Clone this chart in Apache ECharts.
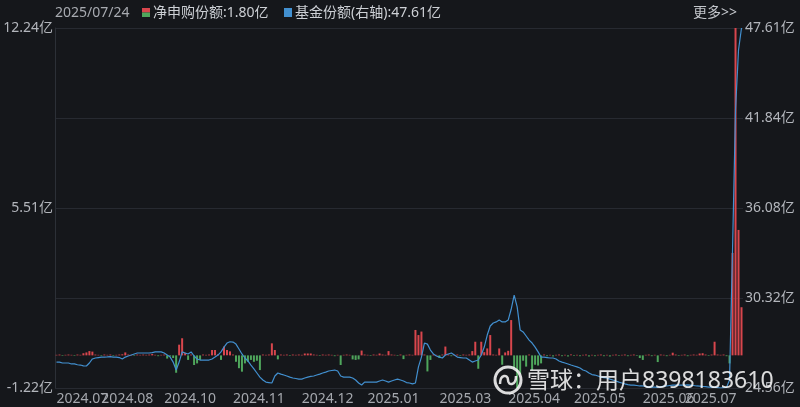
<!DOCTYPE html>
<html><head><meta charset="utf-8">
<script src="https://cdn.jsdelivr.net/npm/echarts/dist/echarts.min.js"></script>
<style>html,body{margin:0;padding:0;background:#15171b;}#c{width:800px;height:407px;}</style>
</head><body><div id="c"></div>
<script>
const dateLabel = '2025/07/24';
const tickIndex = [0, 15, 36, 59, 82, 104, 128, 151, 173, 196, 210];
const tickLabels = ['2024.07','2024.08','2024.10','2024.11','2024.12','2025.01','2025.03','2025.04','2025.05','2025.06','2025.07'];
const leftTickLabels = ['-1.22亿','5.51亿','12.24亿'];
const rightTickLabels = ['24.56亿','30.32亿','36.08亿','41.84亿','47.61亿'];

// 净申购份额 (亿)
const netSubscription = [
 0.02, 0.03,-0.02, 0.02, 0.03, 0.02,-0.02, 0.03, 0.02, 0.08,
 0.11, 0.16, 0.14, 0.03, 0.02,-0.02, 0.03, 0.02, 0.03,-0.02,
 0.02, 0.03, 0.04, 0.11, 0.03, 0.02,-0.02, 0.03, 0.02, 0.03,
 0.02, 0.03, 0.05, 0.02,-0.03, 0.02, 0.03,-0.12,-0.04,-0.10,
-0.65, 0.40, 0.64, 0.10,-0.17, 0.03,-0.36,-0.30,-0.17, 0.03,
 0.02, 0.03, 0.20, 0.20, 0.04,-0.17, 0.33, 0.20, 0.15, 0.03,
-0.24,-0.48,-0.61,-0.30,-0.24,-0.17,-0.24,-0.20,-0.55, 0.03,
 0.02, 0.03, 0.45, 0.20,-0.15, 0.03, 0.02, 0.03,-0.02, 0.03,
 0.02, 0.03, 0.02, 0.07, 0.07, 0.07, 0.03, 0.02,-0.02, 0.03,
 0.02, 0.03, 0.02,-0.03, 0.02,-0.36, 0.02, 0.03, 0.02,-0.15,
-0.17,-0.15, 0.18, 0.03, 0.02,-0.02, 0.03, 0.02, 0.07, 0.03,
 0.02, 0.16, 0.03, 0.02,-0.02, 0.03,-0.14, 0.02, 0.03, 0.02,
 0.95, 0.76, 0.89, 0.03,-0.60,-0.17, 0.03, 0.02,-0.10, 0.03,
 0.33, 0.03,-0.03, 0.02, 0.03,-0.02, 0.03, 0.02, 0.03, 0.16,
 0.51,-0.50, 0.51, 0.12, 0.26, 0.76, 0.03, 0.02, 0.26,-0.35,
 0.11, 0.17, 1.32,-0.48,-1.22,-0.70,-0.20,-0.42, 0.03,-0.55,
-0.35,-0.38,-0.30, 0.03,-0.03, 0.02,-0.04, 0.02, 0.03,-0.03,
 0.02,-0.04, 0.03,-0.02, 0.02,-0.03, 0.02, 0.03,-0.04, 0.02,
-0.03, 0.02, 0.03,-0.03, 0.02,-0.04, 0.02, 0.03,-0.02, 0.02,
 0.03,-0.03, 0.02, 0.03,-0.02,-0.10,-0.17, 0.02, 0.03,-0.03,
 0.02,-0.25, 0.03, 0.02,-0.03, 0.02, 0.10, 0.03,-0.02, 0.02,
 0.03,-0.03, 0.02, 0.03, 0.02, 0.07, 0.08, 0.03,-0.02, 0.03,
 0.51, 0.03, 0.02, 0.03,-0.03,-0.30, 3.83,12.24, 4.69, 1.80
];

// 基金份额 (亿, 右轴)
const fundShares = [
 26.22,26.22,26.16,26.16,26.16,26.10,26.10,26.05,26.03,25.98,
 25.97,26.16,26.42,26.48,26.51,26.54,26.54,26.55,26.57,26.54,
 26.54,26.51,26.42,26.54,26.61,26.67,26.74,26.80,26.80,26.80,
 26.80,26.80,26.83,26.87,26.87,26.87,26.80,26.67,26.54,26.22,
 25.71,26.22,26.87,26.80,26.74,26.87,26.61,26.42,26.35,26.35,
 26.35,26.35,26.42,26.54,26.67,26.87,27.18,27.44,27.52,27.50,
 27.37,27.06,26.74,26.48,26.29,26.03,25.78,25.52,25.26,25.07,
 24.94,24.91,24.88,25.33,25.52,25.45,25.39,25.33,25.26,25.20,
 25.17,25.13,25.13,25.20,25.26,25.30,25.33,25.39,25.45,25.52,
 25.58,25.65,25.68,25.71,25.65,25.33,25.26,25.26,25.26,25.20,
 25.07,24.88,24.75,24.94,24.94,24.94,24.94,24.94,25.01,25.07,
 25.01,24.94,25.01,25.07,25.13,25.07,25.01,24.91,24.88,24.82,
 24.88,25.91,26.54,27.44,27.37,26.99,26.74,26.61,26.54,26.48,
 26.67,26.74,26.80,26.67,26.54,26.51,26.48,26.48,26.35,26.22,
 26.29,26.35,26.67,27.18,27.95,28.53,28.72,28.79,28.91,28.79,
 28.79,28.91,29.60,30.51,29.75,28.28,28.15,27.89,27.63,27.44,
 27.18,26.87,26.54,26.54,26.51,26.48,26.48,26.42,26.29,26.22,
 26.16,26.10,26.03,25.97,25.91,25.84,25.71,25.65,25.52,25.42,
 25.39,25.33,25.26,25.23,25.20,25.13,25.07,25.01,24.94,24.88,
 24.82,24.78,24.75,24.75,24.72,24.69,24.69,24.66,24.62,24.62,
 24.62,24.60,24.64,24.68,24.69,24.72,24.75,24.75,24.74,24.75,
 24.75,24.76,24.75,24.72,24.69,24.68,24.66,24.65,24.62,24.61,
 24.60,24.58,24.56,24.58,24.60,25.07,33.40,42.36,46.20,47.61
];

const categories = netSubscription.map((_, i) => i);

const FONT = "'Noto Sans','Noto Sans CJK SC',sans-serif";
const RED = '#d8464d', GREEN = '#4fa65c', BLUE = '#4290d0';
const LMIN = -1.22, LMAX = 12.24, LINT = 6.73;
const RMIN = 24.56, RMAX = 47.61, RINT = 5.7625;
const WM = 'rgba(255,255,255,0.85)';

const chart = echarts.init(document.getElementById('c'), null, {renderer: 'canvas'});
const lastNet = netSubscription[netSubscription.length - 1].toFixed(2);
const lastShare = fundShares[fundShares.length - 1].toFixed(2);

// two label layers so that overlapping month labels are both kept
function xAxisLayer(parity) {
  const pick = (idx) => { const k = tickIndex.indexOf(idx); return k >= 0 && k % 2 === parity; };
  return {
    type: 'category',
    data: categories,
    boundaryGap: true,
    position: 'bottom',
    axisLine: {show: false},
    axisTick: {show: false},
    splitLine: {show: false},
    axisLabel: {
      interval: (idx) => pick(idx),
      formatter: (v, idx) => pick(idx) ? tickLabels[tickIndex.indexOf(idx)] : '',
      hideOverlap: false,
      align: 'left',
      margin: 4,
      color: '#a5a8ae',
      fontSize: 14,
      fontFamily: FONT
    }
  };
}

chart.setOption({
  backgroundColor: '#15171b',
  animation: false,
  grid: {left: 55, right: 57, top: 28, bottom: 19, containLabel: false},
  xAxis: [xAxisLayer(0), xAxisLayer(1)],
  yAxis: [
    {
      type: 'value', min: LMIN, max: LMAX, interval: LINT,
      axisLine: {show: true, lineStyle: {color: '#2c3037', width: 1}},
      axisTick: {show: false},
      splitLine: {show: false},
      axisLabel: {
        margin: 2, color: '#b3b6bc', fontSize: 14, fontFamily: FONT, hideOverlap: false,
        formatter: (v) => leftTickLabels[Math.round((v - LMIN) / LINT)] || ''
      }
    },
    {
      type: 'value', min: RMIN, max: RMAX, interval: RINT,
      position: 'right',
      axisLine: {show: false},
      axisTick: {show: false},
      splitLine: {show: true, lineStyle: {color: '#272a31', width: 1}},
      axisLabel: {
        margin: 2, color: '#b3b6bc', fontSize: 14, fontFamily: FONT, hideOverlap: false,
        formatter: (v) => rightTickLabels[Math.round((v - RMIN) / RINT)] || ''
      }
    }
  ],
  series: [
    {
      name: '净申购份额', type: 'bar', xAxisIndex: 0, yAxisIndex: 0,
      data: netSubscription, barWidth: 2,
      itemStyle: {color: (p) => p.value >= 0 ? RED : GREEN},
      z: 2
    },
    {
      name: '基金份额(右轴)', type: 'line', xAxisIndex: 0, yAxisIndex: 1,
      data: fundShares, showSymbol: false, symbol: 'none',
      lineStyle: {color: BLUE, width: 1.2},
      z: 3
    }
  ],
  graphic: [
    {type: 'text', x: 55, y: 13, style: {text: dateLabel, font: '14px ' + FONT, fill: '#a8abb1', verticalAlign: 'middle'}},
    {type: 'rect', shape: {x: 142, y: 8, width: 8, height: 4.5}, style: {fill: RED}},
    {type: 'rect', shape: {x: 142, y: 12.5, width: 8, height: 4.5}, style: {fill: GREEN}},
    {type: 'text', x: 153, y: 13, style: {text: '净申购份额:' + lastNet + '亿', font: '14px ' + FONT, fill: '#cdd0d5', verticalAlign: 'middle'}},
    {type: 'rect', shape: {x: 284, y: 8, width: 8, height: 9}, style: {fill: BLUE}},
    {type: 'text', x: 295, y: 13, style: {text: '基金份额(右轴):' + lastShare + '亿', font: '14px ' + FONT, fill: '#cdd0d5', verticalAlign: 'middle'}},
    {type: 'text', x: 693, y: 13, style: {text: '更多>>', font: '14px ' + FONT, fill: '#c3c6cb', verticalAlign: 'middle'}},
    {type: 'circle', shape: {cx: 508, cy: 380, r: 13}, style: {fill: 'none', stroke: WM, lineWidth: 3}, z: 10},
    {type: 'bezierCurve', shape: {x1: 500, y1: 384, cpx1: 500, cpy1: 374, cpx2: 508, cpy2: 374, x2: 508, y2: 380}, style: {fill: 'none', stroke: WM, lineWidth: 2.5}, z: 10},
    {type: 'bezierCurve', shape: {x1: 508, y1: 380, cpx1: 508, cpy1: 386, cpx2: 516, cpy2: 386, x2: 516, y2: 376}, style: {fill: 'none', stroke: WM, lineWidth: 2.5}, z: 10},
    {type: 'text', x: 527, y: 381, style: {text: '雪球：用户8398183610', font: '23px ' + FONT, fill: WM, verticalAlign: 'middle'}, z: 10}
  ]
});
</script>
</body></html>
